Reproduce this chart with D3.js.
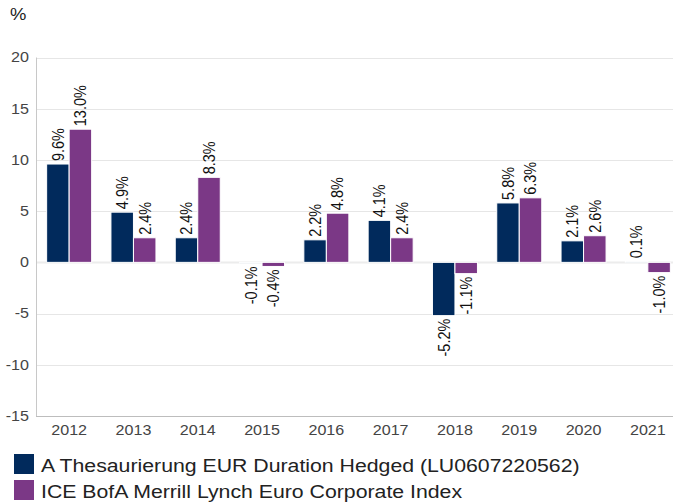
<!DOCTYPE html>
<html><head><meta charset="utf-8">
<script src="https://cdn.jsdelivr.net/npm/d3@7"></script>
<style>
html,body{margin:0;padding:0;background:#fff;}
svg{display:block;font-family:"Liberation Sans",Arial,sans-serif;}
</style></head>
<body><svg id="c" width="673" height="504"></svg>
<script>
const years = ["2012","2013","2014","2015","2016","2017","2018","2019","2020","2021"];
const fundValues = [9.6, 4.9, 2.4, -0.1, 2.2, 4.1, -5.2, 5.8, 2.1, 0.1];
const indexValues = [13.0, 2.4, 8.3, -0.4, 4.8, 2.4, -1.1, 6.3, 2.6, -1.0];
const seriesNames = ["A Thesaurierung EUR Duration Hedged (LU0607220562)", "ICE BofA Merrill Lynch Euro Corporate Index"];
const seriesColors = ["#012a5c", "#7b3886"];
const yTicks = [-15, -10, -5, 0, 5, 10, 15, 20];

const SX = 1.15; // horizontal text stretch seen in the reference
const svg = d3.select("#c");
const x0 = d3.scaleBand().domain(years).range([37, 680]).paddingInner(0.3).paddingOuter(0.15);
const x1 = d3.scaleBand().domain([0,1]).range([0, x0.bandwidth()]);
const y = d3.scaleLinear().domain([-15, 20]).range([416, 57.5]);

// gridlines
svg.append("g").selectAll("line").data(yTicks.filter(d => d !== -15)).join("line")
  .attr("x1", 36).attr("x2", 673)
  .attr("y1", d => Math.round(y(d)) + 0.5).attr("y2", d => Math.round(y(d)) + 0.5)
  .attr("stroke", d => d === 0 ? "#ececec" : "#e6e6e6")
  .attr("stroke-width", d => d === 0 ? 2 : 1);

// axes lines
svg.append("line").attr("x1", 36.5).attr("x2", 36.5).attr("y1", y(20)).attr("y2", 416)
  .attr("stroke", "#c8c8c8");
svg.append("line").attr("x1", 36).attr("x2", 673).attr("y1", 416.5).attr("y2", 416.5)
  .attr("stroke", "#bdbdbd");

// y tick labels
svg.append("g").selectAll("text").data(yTicks).join("text")
  .attr("transform", d => `translate(29,${y(d)}) scale(${SX},1)`).attr("dy", "0.35em")
  .attr("text-anchor", "end").attr("font-size", 14).attr("fill", "#444")
  .text(d => d);

// x tick labels
svg.append("g").selectAll("text").data(years).join("text")
  .attr("transform", d => `translate(${x0(d) + x0.bandwidth() / 2},435) scale(${SX},1)`)
  .attr("text-anchor", "middle").attr("font-size", 14).attr("fill", "#444")
  .text(d => d);

svg.append("text").attr("transform", `translate(10,20) scale(${SX},1)`).attr("font-size", 16).attr("fill", "#222").text("%");

const data = years.map((yr, i) => ({ yr, vals: [fundValues[i], indexValues[i]] }));
const groups = svg.append("g").selectAll("g").data(data).join("g")
  .attr("transform", d => `translate(${x0(d.yr)},0)`);

groups.selectAll("rect").data(d => d.vals.map((v, k) => ({ v, k }))).join("rect")
  .attr("x", d => x1(d.k)).attr("width", x1.bandwidth())
  .attr("y", d => y(Math.max(0, d.v))).attr("height", d => Math.abs(y(d.v) - y(0)))
  .attr("fill", d => seriesColors[d.k]).attr("stroke", "#fff").attr("stroke-width", 1);

groups.selectAll("text").data(d => d.vals.map((v, k) => ({ v, k }))).join("text")
  .attr("transform", d => {
    const cx = x1(d.k) + x1.bandwidth() / 2;
    const yy = d.v >= 0 ? y(d.v) - 3 : y(d.v) + 3;
    return `translate(${cx},${yy}) scale(${SX},1) rotate(-90)`;
  })
  .attr("text-anchor", d => d.v >= 0 ? "start" : "end")
  .attr("dy", "0.35em").attr("font-size", 14.5).attr("fill", "#111")
  .text(d => d.v.toFixed(1) + "%");

// legend
const lg = svg.append("g").selectAll("g").data(seriesNames).join("g")
  .attr("transform", (d, i) => `translate(14,${454 + i * 26})`);
lg.append("rect").attr("width", 20).attr("height", 20).attr("fill", (d, i) => seriesColors[i]);
lg.append("text").attr("transform", `translate(27,17.5) scale(${SX},1)`).attr("font-size", 18.5).attr("fill", "#222").text(d => d);
</script></body></html>
